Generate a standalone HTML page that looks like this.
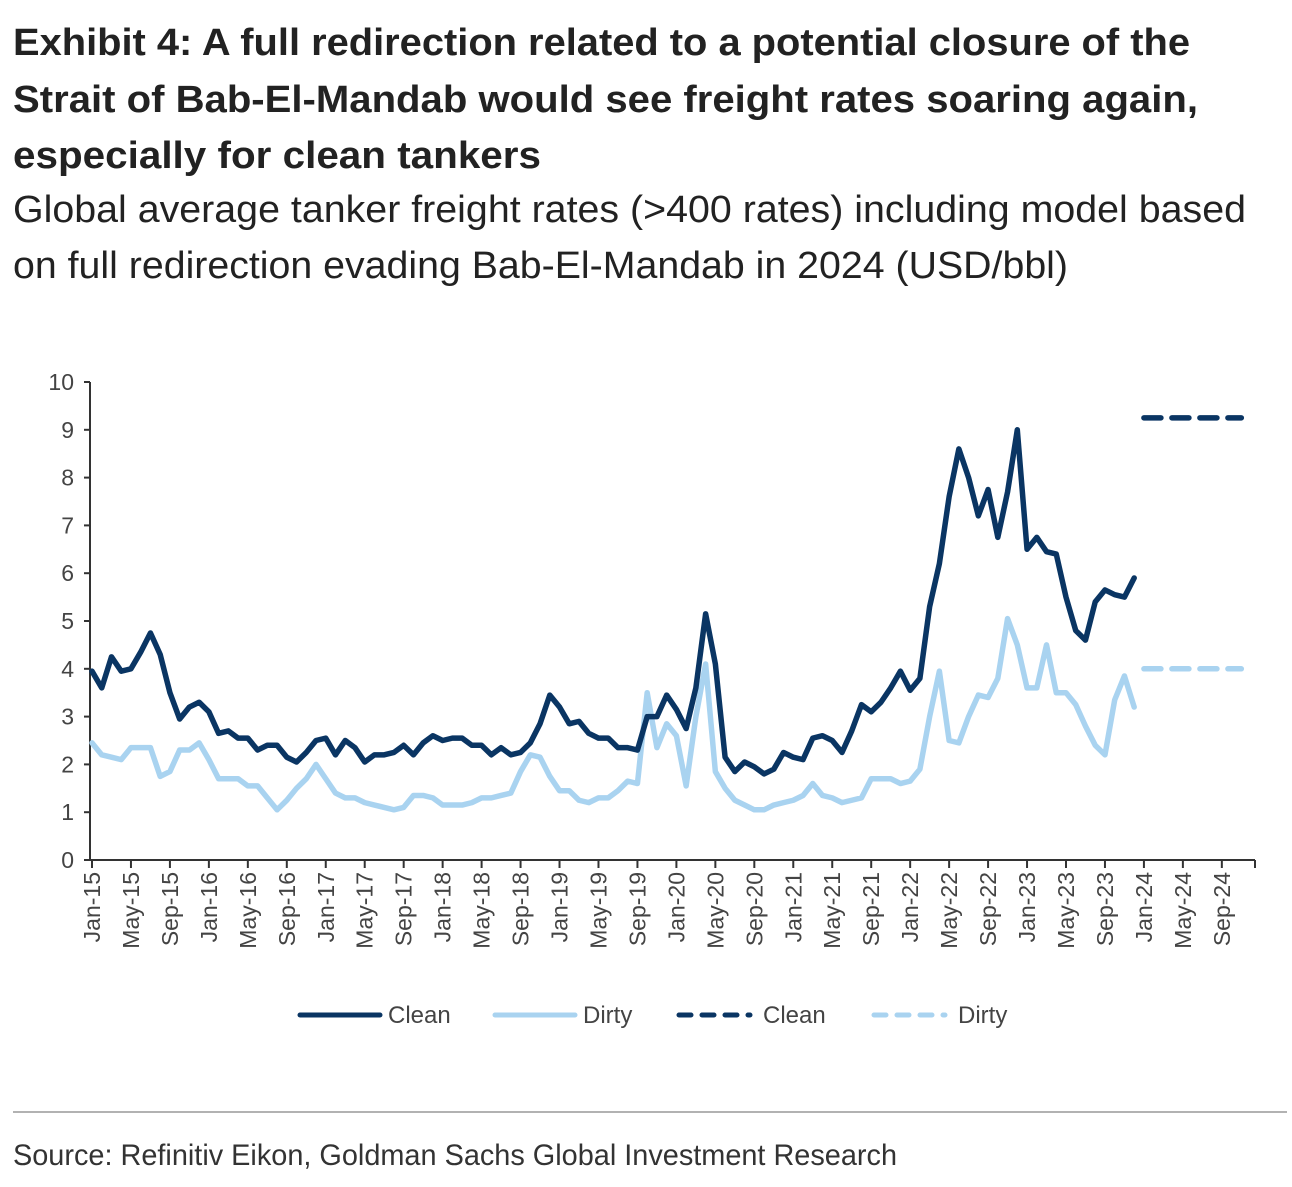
<!DOCTYPE html>
<html><head><meta charset="utf-8"><style>
html,body{margin:0;padding:0;background:#fff;}
svg{display:block;font-family:"Liberation Sans",sans-serif;}
</style></head><body>
<svg id="chart" width="1292" height="1187" viewBox="0 0 1292 1187">
<g font-weight="bold" font-size="38" fill="#222">
<text x="13" y="55" textLength="1177" lengthAdjust="spacingAndGlyphs">Exhibit 4: A full redirection related to a potential closure of the</text>
<text x="13" y="112" textLength="1185" lengthAdjust="spacingAndGlyphs">Strait of Bab-El-Mandab would see freight rates soaring again,</text>
<text x="13" y="168" textLength="528" lengthAdjust="spacingAndGlyphs">especially for clean tankers</text>
</g>
<g font-size="38" fill="#222">
<text x="13" y="222" textLength="1233" lengthAdjust="spacingAndGlyphs">Global average tanker freight rates (&gt;400 rates) including model based</text>
<text x="13" y="278" textLength="1055" lengthAdjust="spacingAndGlyphs">on full redirection evading Bab-El-Mandab in 2024 (USD/bbl)</text>
</g>
<g id="axes"></g>
<g id="series"></g>
<g font-size="24" fill="#444">
<line x1="300" y1="1015" x2="380" y2="1015" stroke="#0a3563" stroke-width="5" stroke-linecap="round"/>
<text x="388" y="1023">Clean</text>
<line x1="495" y1="1015" x2="575" y2="1015" stroke="#a9d3f0" stroke-width="5" stroke-linecap="round"/>
<text x="583" y="1023">Dirty</text>
<line x1="679" y1="1015" x2="750" y2="1015" stroke="#0a3563" stroke-width="5" stroke-linecap="round" stroke-dasharray="12,11"/>
<text x="763" y="1023">Clean</text>
<line x1="874" y1="1015" x2="945" y2="1015" stroke="#a9d3f0" stroke-width="5" stroke-linecap="round" stroke-dasharray="12,11"/>
<text x="958" y="1023">Dirty</text>
</g>
<line x1="13" y1="1112" x2="1287" y2="1112" stroke="#999" stroke-width="1.5"/>
<text x="13" y="1165" font-size="30" fill="#333" textLength="884" lengthAdjust="spacingAndGlyphs">Source: Refinitiv Eikon, Goldman Sachs Global Investment Research</text>
</svg>
<script>
const clean = [3.95,3.6,4.25,3.95,4.0,4.35,4.75,4.3,3.5,2.95,3.2,3.3,
3.1,2.65,2.7,2.55,2.55,2.3,2.4,2.4,2.15,2.05,2.25,2.5,
2.55,2.2,2.5,2.35,2.05,2.2,2.2,2.25,2.4,2.2,2.45,2.6,
2.5,2.55,2.55,2.4,2.4,2.2,2.35,2.2,2.25,2.45,2.85,3.45,
3.2,2.85,2.9,2.65,2.55,2.55,2.35,2.35,2.3,3.0,3.0,3.45,
3.15,2.75,3.6,5.15,4.1,2.15,1.85,2.05,1.95,1.8,1.9,2.25,
2.15,2.1,2.55,2.6,2.5,2.25,2.7,3.25,3.1,3.3,3.6,3.95,
3.55,3.8,5.3,6.2,7.6,8.6,8.0,7.2,7.75,6.75,7.7,9.0,
6.5,6.75,6.45,6.4,5.5,4.8,4.6,5.4,5.65,5.55,5.5,5.9];
const dirty = [2.45,2.2,2.15,2.1,2.35,2.35,2.35,1.75,1.85,2.3,2.3,2.45,
2.1,1.7,1.7,1.7,1.55,1.55,1.3,1.05,1.25,1.5,1.7,2.0,
1.7,1.4,1.3,1.3,1.2,1.15,1.1,1.05,1.1,1.35,1.35,1.3,
1.15,1.15,1.15,1.2,1.3,1.3,1.35,1.4,1.85,2.2,2.15,1.75,
1.45,1.45,1.25,1.2,1.3,1.3,1.45,1.65,1.6,3.5,2.35,2.85,
2.6,1.55,3.0,4.1,1.85,1.5,1.25,1.15,1.05,1.05,1.15,1.2,
1.25,1.35,1.6,1.35,1.3,1.2,1.25,1.3,1.7,1.7,1.7,1.6,
1.65,1.9,3.0,3.95,2.5,2.45,3.0,3.45,3.4,3.8,5.05,4.5,
3.6,3.6,4.5,3.5,3.5,3.25,2.8,2.4,2.2,3.35,3.85,3.2];
const modelMonths = [108,118];
const cleanModel = [9.25,9.25];
const dirtyModel = [4.0,4.0];
const yTicks = [0,1,2,3,4,5,6,7,8,9,10];
const xLabels = ["Jan-15","May-15","Sep-15","Jan-16","May-16","Sep-16","Jan-17","May-17","Sep-17","Jan-18","May-18","Sep-18","Jan-19","May-19","Sep-19","Jan-20","May-20","Sep-20","Jan-21","May-21","Sep-21","Jan-22","May-22","Sep-22","Jan-23","May-23","Sep-23","Jan-24","May-24","Sep-24"];

const NS="http://www.w3.org/2000/svg";
const X0=92, MW=9.74, Y0=860, YU=47.8;
const xs=m=>X0+m*MW, ys=v=>Y0-v*YU;
function mk(tag,attrs,parent){const e=document.createElementNS(NS,tag);for(const k in attrs)e.setAttribute(k,attrs[k]);parent.appendChild(e);return e;}
const axes=document.getElementById('axes'), ser=document.getElementById('series');
const ya=mk('line',{x1:X0-2,y1:ys(10),x2:X0-2,y2:Y0,stroke:'#333','stroke-width':2},axes);


const xa=mk('line',{x1:X0-3,y1:Y0,x2:1255,y2:Y0,stroke:'#333','stroke-width':2},axes);


yTicks.forEach(v=>{
  mk('line',{x1:X0-8,y1:ys(v),x2:X0-2,y2:ys(v),stroke:'#333','stroke-width':2},axes);
  const t=mk('text',{x:X0-18,y:ys(v)+8,'text-anchor':'end','font-size':23,fill:'#444'},axes);
  t.textContent=v;
  
  
});
xLabels.forEach((l,i)=>{
  const x=xs(i*4);
  mk('line',{x1:x,y1:Y0,x2:x,y2:Y0+8,stroke:'#333','stroke-width':2},axes);
  const t=mk('text',{x:0,y:0,'text-anchor':'end','font-size':23,fill:'#444',transform:`translate(${x+8},${Y0+12}) rotate(-90)`},axes);
  t.textContent=l;
  
  
});
mk('line',{x1:1255,y1:Y0,x2:1255,y2:Y0+8,stroke:'#333','stroke-width':2},axes);
function line(vals,months,color,dash,name){
  const pts=vals.map((v,i)=>xs(months?months[i]:i)+','+ys(v)).join(' ');
  const p=mk('polyline',{points:pts,fill:'none',stroke:color,'stroke-width':5.5,'stroke-linejoin':'round','stroke-linecap':'round'},ser);
  if(dash)p.setAttribute('stroke-dasharray',dash);
  
  
}
line(dirty,null,'#a9d3f0',null,'dirty-line');
line(clean,null,'#0a3563',null,'clean-line');
line(cleanModel,modelMonths,'#0a3563','17,11','clean-model-line');
line(dirtyModel,modelMonths,'#a9d3f0','17,11','dirty-model-line');
</script>
</body></html>
